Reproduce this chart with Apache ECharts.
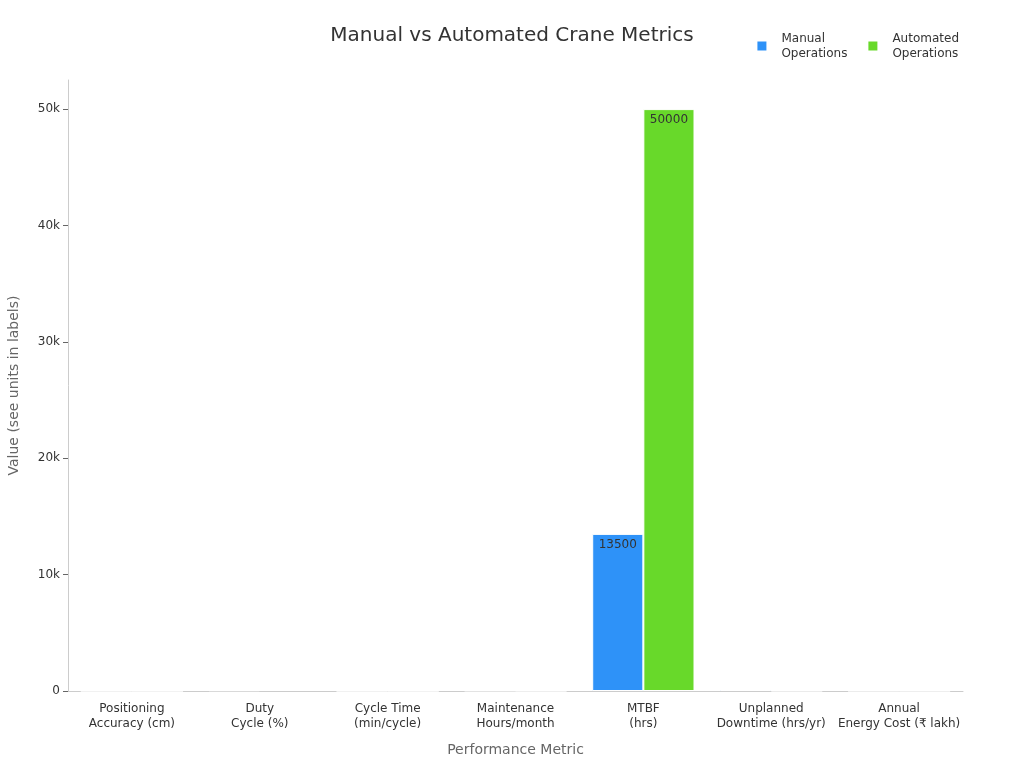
<!DOCTYPE html>
<html>
<head>
<meta charset="utf-8">
<script src="https://cdn.jsdelivr.net/npm/echarts@6/dist/echarts.min.js"></script>
<style>
  html, body { margin: 0; padding: 0; background: #fff; }
  #chart { width: 1024px; height: 768px; }
</style>
</head>
<body>
<div id="chart"></div>
<script>
var categories = [
    'Positioning\nAccuracy (cm)',
    'Duty\nCycle (%)',
    'Cycle Time\n(min/cycle)',
    'Maintenance\nHours/month',
    'MTBF\n(hrs)',
    'Unplanned\nDowntime (hrs/yr)',
    'Annual\nEnergy Cost (₹ lakh)'
];
var manualValues = [5, 60, 4, 40, 13500, 120, 18];
var automatedValues = [1, 95, 2.5, 12, 50000, 20, 12];
var yTicks = [0, 10000, 20000, 30000, 40000, 50000];

var myChart = echarts.init(document.getElementById('chart'));

// only label bars tall enough to hold text
var barLabel = {
    show: true,
    position: 'insideTop',
    color: '#333',
    fontSize: 12,
    formatter: function (p) { return p.value > 5000 ? p.value : ''; }
};

var options = {
    textStyle: { fontFamily: 'DejaVu Sans' },
    title: {
        text: 'Manual vs Automated Crane Metrics',
        left: 'center',
        top: 21,
        textStyle: { fontSize: 20, fontWeight: 'normal', color: '#333' }
    },
    legend: {
        top: 26,
        right: 60,
        icon: 'rect',
        itemWidth: 11,
        itemHeight: 11,
        itemGap: 19,
        textStyle: { fontSize: 12, color: '#333', lineHeight: 15, padding: [0, 0, 0, 9] },
        data: ['Manual\nOperations', 'Automated\nOperations']
    },
    grid: { left: 68, right: 61, top: 80, bottom: 77, containLabel: false, outerBoundsMode: 'none' },
    xAxis: {
        type: 'category',
        data: categories,
        name: 'Performance Metric',
        nameLocation: 'middle',
        nameGap: 52,
        nameTextStyle: { fontSize: 14, color: '#666' },
        axisLine: { lineStyle: { color: '#ccc' } },
        axisTick: { alignWithLabel: true, lineStyle: { color: '#999' } },
        axisLabel: { color: '#333', fontSize: 12, interval: 0, lineHeight: 15, margin: 10 }
    },
    yAxis: {
        type: 'value',
        min: 0,
        max: 52500,
        interval: 10000,
        name: 'Value (see units in labels)',
        nameLocation: 'middle',
        nameGap: 47,
        nameTextStyle: { fontSize: 14, color: '#666' },
        axisLine: { show: true, lineStyle: { color: '#ccc' } },
        axisTick: { show: true, lineStyle: { color: '#666' } },
        splitLine: { show: false },
        axisLabel: {
            color: '#333',
            fontSize: 12,
            showMaxLabel: false,
            formatter: function (v) {
                if (yTicks.indexOf(v) < 0) return '';
                return v === 0 ? '0' : (v / 1000) + 'k';
            }
        }
    },
    series: [
        {
            name: 'Manual\nOperations',
            type: 'bar',
            data: manualValues,
            barGap: '0%',
            barCategoryGap: '20%',
            itemStyle: { color: '#2e92f8', borderColor: '#fff', borderWidth: 1 },
            label: barLabel
        },
        {
            name: 'Automated\nOperations',
            type: 'bar',
            data: automatedValues,
            itemStyle: { color: '#68d92a', borderColor: '#fff', borderWidth: 1 },
            label: barLabel
        }
    ]
};
myChart.setOption(options, true);
</script>
</body>
</html>
